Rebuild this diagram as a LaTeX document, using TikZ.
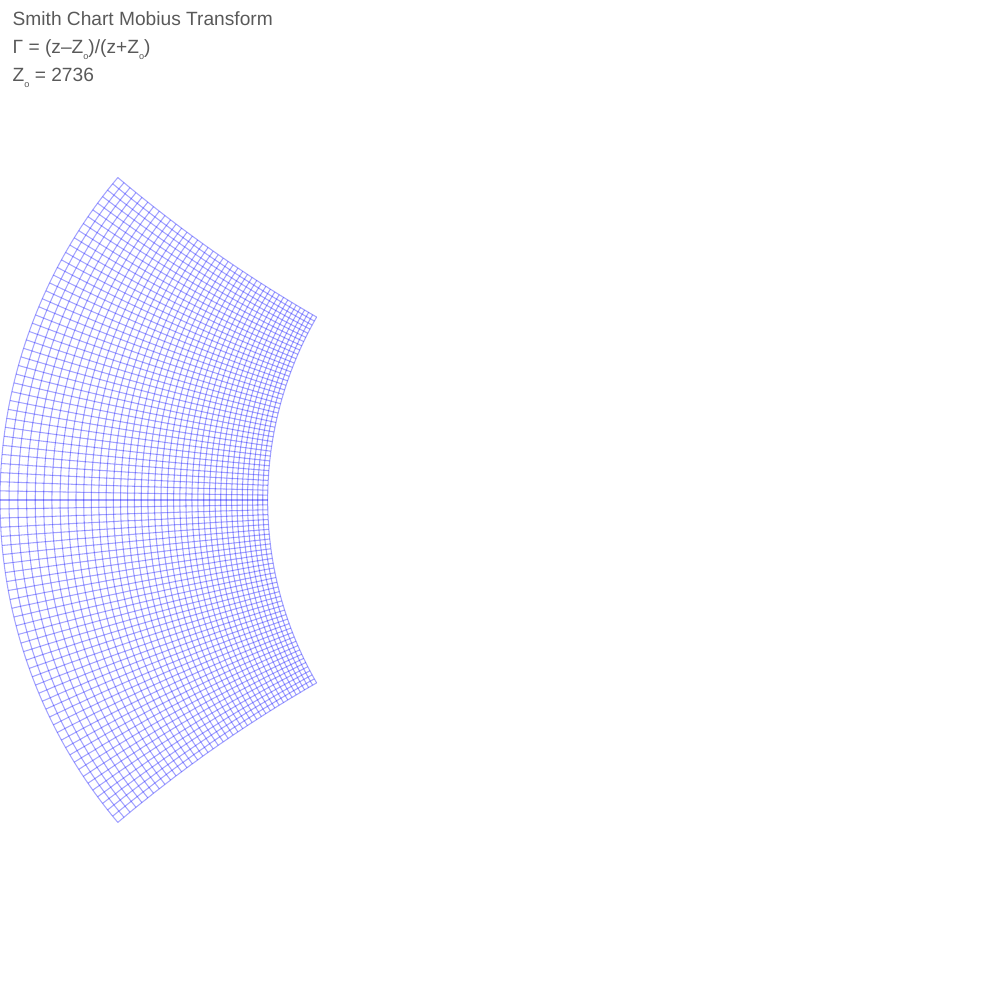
\documentclass[tikz,border=0pt]{standalone}
\usepackage{fontspec}
\setmainfont{Liberation Sans}
\newcommand{\zsubo}{\raisebox{-0.5ex}{\fontsize{2.6}{3}\selectfont o}}
\begin{document}
\begin{tikzpicture}[x=1cm,y=1cm,
  gridline/.style={draw=blue, draw opacity=0.36, line width=0.3pt},
  titletext/.style={anchor=base west, inner sep=0pt, text=black!65, font=\fontsize{5.45}{6}\selectfont}]
\useasboundingbox (0,0) rectangle (10,10);
% constant-resistance lines (Re z = 0 ... 1000, step 25)
\foreach \i in {0,...,40}{
  \pgfmathsetmacro{\u}{\i*25/2736}
  \draw[gridline] plot[smooth, variable=\t, domain=-1000:1000, samples=81]
    ({5+5*(\u*\u+(\t/2736)^2-1)/((\u+1)^2+(\t/2736)^2)},
     {5+10*(\t/2736)/((\u+1)^2+(\t/2736)^2)});
}
% constant-reactance lines (Im z = -1000 ... 1000, step 25)
\foreach \j in {0,...,80}{
  \pgfmathsetmacro{\v}{(\j*25-1000)/2736}
  \draw[gridline] plot[smooth, variable=\t, domain=0:1000, samples=41]
    ({5+5*((\t/2736)^2+\v*\v-1)/((\t/2736+1)^2+\v*\v)},
     {5+10*\v/((\t/2736+1)^2+\v*\v)});
}
\node[titletext] (title) at (0.12,9.74) {Smith Chart Mobius Transform};
\node[titletext] (formula) at (0.12,9.46) {Γ = (z–Z\zsubo)/(z+Z\zsubo)};
\node[titletext] (zzero) at (0.12,9.18) {Z\zsubo\ = 2736};
\end{tikzpicture}
\end{document}
